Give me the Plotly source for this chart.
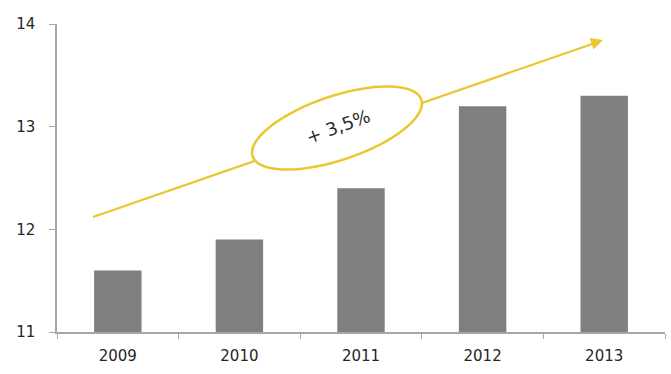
import numpy as np
import plotly.graph_objects as go

years = ["2009", "2010", "2011", "2012", "2013"]
values = [11.6, 11.9, 12.4, 13.2, 13.3]
y_ticks = [11, 12, 13, 14]
growth_label = "+ 3,5%"

W, H = 671, 374
L, R, T, B = 57, 6, 24, 42
pw, ph = W - L - R, H - T - B
GOLD = "#e8c82e"

def px2dom(x, y):
    return (x - L) / pw, (H - B - y) / ph

fig = go.Figure()
fig.add_trace(go.Bar(x=years, y=values, marker_color="#7f7f7f", width=0.39,
                     marker_line_width=0))

# growth arrow line (shape, so the ellipse can cover it)
x0, y0 = px2dom(93, 217)
x1, y1 = px2dom(598, 42)
fig.add_shape(type="line", x0=x0, y0=y0, x1=x1, y1=y1, xref="paper", yref="paper",
              line=dict(color=GOLD, width=2.2))

# tilted ellipse around the growth label, white filled
cx, cy, a, b, ang = 337, 128, 89, 32, np.deg2rad(18.6)
t = np.linspace(0, 2 * np.pi, 90)
ex = cx + a * np.cos(t) * np.cos(ang) + b * np.sin(t) * np.sin(ang)
ey = cy - a * np.cos(t) * np.sin(ang) + b * np.sin(t) * np.cos(ang)
pts = [px2dom(x, y) for x, y in zip(ex, ey)]
path = "M " + " L ".join(f"{p[0]:.4f},{p[1]:.4f}" for p in pts) + " Z"
fig.add_shape(type="path", path=path, xref="paper", yref="paper",
              fillcolor="white", line=dict(color=GOLD, width=2.5))

# arrowhead
hx, hy = px2dom(603, 40)
fig.add_annotation(x=hx, y=hy, ax=-12, ay=4, xref="paper", yref="paper",
                   axref="pixel", ayref="pixel", showarrow=True, text="",
                   arrowhead=2, arrowsize=1.1, arrowwidth=2.2, arrowcolor=GOLD)

lx, ly = px2dom(338, 127)
fig.add_annotation(x=lx, y=ly, xref="paper", yref="paper", text=growth_label,
                   showarrow=False, textangle=-20,
                   font=dict(family="DejaVu Sans, sans-serif", size=18, color="#2a2a2a"))

fig.update_layout(
    width=W, height=H, margin=dict(l=L, r=R, t=T, b=B),
    paper_bgcolor="white", plot_bgcolor="white", showlegend=False,
    font=dict(family="DejaVu Sans, sans-serif", size=15, color="#262626"),
    bargap=0.6,
)
fig.update_xaxes(type="category", showline=True, linecolor="#a6a6a6", linewidth=1.5,
                 ticks="outside", tickson="boundaries", ticklen=5, tickcolor="#a6a6a6",
                 showgrid=False, ticklabelstandoff=9,
                 tickfont=dict(family="DejaVu Sans, sans-serif", size=15, color="#262626"))
fig.update_yaxes(range=[11, 14], tickvals=y_ticks, showline=True, linecolor="#a6a6a6",
                 linewidth=1.5, ticks="outside", ticklen=6, tickcolor="#a6a6a6",
                 showgrid=False, zeroline=False, ticklabelstandoff=11,
                 tickfont=dict(family="DejaVu Sans, sans-serif", size=15, color="#262626"))

fig.write_html("out.html")
